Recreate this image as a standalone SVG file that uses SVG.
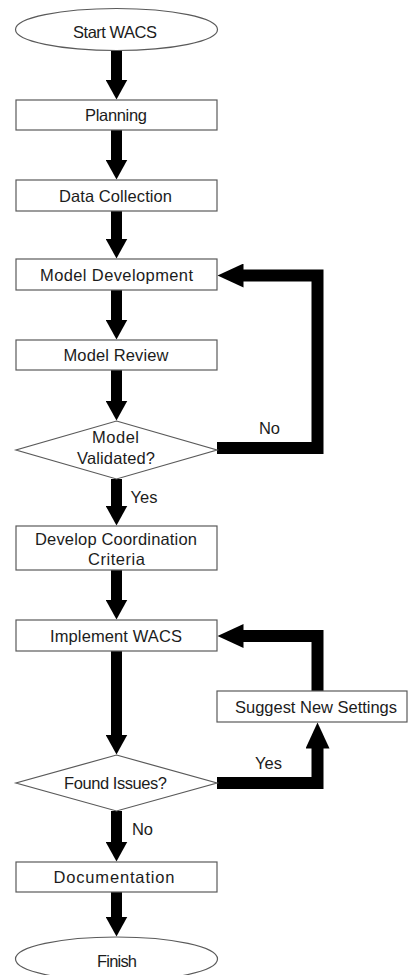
<svg xmlns="http://www.w3.org/2000/svg" width="409" height="975" viewBox="0 0 409 975">
  <defs>
    <style>
      .shape { fill: #ffffff; stroke: #5a5a5a; stroke-width: 1.2; }
      .lbl { font-family: "Liberation Sans", Arial, sans-serif; font-size: 16.5px; fill: #1c1c1c; text-anchor: middle; }
      .flow { fill: none; stroke: #000000; stroke-width: 11; stroke-linejoin: miter; }
      .loop { fill: none; stroke: #000000; stroke-width: 12; stroke-linejoin: miter; }
    </style>
    <!-- arrowhead for the main vertical flow -->
    <marker id="headDown" markerUnits="userSpaceOnUse" markerWidth="22" markerHeight="22" refX="0.5" refY="11" orient="auto">
      <path d="M0,0 L20,11 L0,22 Z" fill="#000"/>
    </marker>
    <!-- larger arrowhead for the feedback loops -->
    <marker id="headLoop" markerUnits="userSpaceOnUse" markerWidth="27" markerHeight="24" refX="0.5" refY="12" orient="auto">
      <path d="M0,0 L26,12 L0,24 Z" fill="#000"/>
    </marker>
  </defs>

  <rect width="409" height="975" fill="#ffffff"/>

  <!-- connectors -->
  <g id="connectors">
    <path class="flow" d="M116.5,50 V80" marker-end="url(#headDown)"/>
    <path class="flow" d="M116.5,130 V160" marker-end="url(#headDown)"/>
    <path class="flow" d="M116.5,211 V239" marker-end="url(#headDown)"/>
    <path class="flow" d="M116.5,290 V320" marker-end="url(#headDown)"/>
    <path class="flow" d="M116.5,370 V401" marker-end="url(#headDown)"/>
    <path class="flow" d="M116.5,479 V506" marker-end="url(#headDown)"/>
    <path class="flow" d="M116.5,570 V600" marker-end="url(#headDown)"/>
    <path class="flow" d="M116.5,651 V735" marker-end="url(#headDown)"/>
    <path class="flow" d="M116.5,811 V842" marker-end="url(#headDown)"/>
    <path class="flow" d="M116.5,892 V917" marker-end="url(#headDown)"/>
    <!-- No: back to model development -->
    <path class="loop" d="M217,448 H317.5 V275.5 H243" marker-end="url(#headLoop)"/>
    <!-- Yes: issues found, suggest new settings -->
    <path class="loop" d="M217,783 H317.5 V748" marker-end="url(#headLoop)"/>
    <!-- new settings back to implementation -->
    <path class="loop" d="M317.5,691 V636 H243" marker-end="url(#headLoop)"/>
    <text class="lbl" x="269.5" y="434">No</text>
    <text class="lbl" x="144" y="503">Yes</text>
    <text class="lbl" x="268.5" y="769">Yes</text>
    <text class="lbl" x="142.5" y="835">No</text>
  </g>

  <g id="start">
    <ellipse class="shape" cx="116.5" cy="29.5" rx="101" ry="21"/>
    <text class="lbl" x="115" y="37.5" textLength="84">Start WACS</text>
  </g>
  <g id="planning">
    <rect class="shape" x="16" y="100" width="201" height="30"/>
    <text class="lbl" x="116" y="120.5" textLength="62">Planning</text>
  </g>
  <g id="data-collection">
    <rect class="shape" x="16" y="180" width="201" height="31"/>
    <text class="lbl" x="115.5" y="201.5" textLength="113">Data Collection</text>
  </g>
  <g id="model-development">
    <rect class="shape" x="16" y="259" width="201" height="31"/>
    <text class="lbl" x="116.5" y="281" textLength="153">Model Development</text>
  </g>
  <g id="model-review">
    <rect class="shape" x="16" y="340" width="201" height="30"/>
    <text class="lbl" x="116" y="361" textLength="105">Model Review</text>
  </g>
  <g id="model-validated">
    <polygon class="shape" points="116.5,421 217,450 116.5,479 16,450"/>
    <text class="lbl" x="115.5" y="443" textLength="47">Model</text>
    <text class="lbl" x="116" y="463.5" textLength="78">Validated?</text>
  </g>
  <g id="coordination-criteria">
    <rect class="shape" x="16" y="526" width="201" height="44"/>
    <text class="lbl" x="116" y="545" textLength="162">Develop Coordination</text>
    <text class="lbl" x="116.5" y="565" textLength="57">Criteria</text>
  </g>
  <g id="implement">
    <rect class="shape" x="16" y="620" width="201" height="31"/>
    <text class="lbl" x="116" y="642" textLength="132">Implement WACS</text>
  </g>
  <g id="suggest-settings">
    <rect class="shape" x="217" y="691" width="190" height="31"/>
    <text class="lbl" x="316" y="713" textLength="162">Suggest New Settings</text>
  </g>
  <g id="found-issues">
    <polygon class="shape" points="116.5,755 217,783 116.5,811 16,783"/>
    <text class="lbl" x="115.5" y="789" textLength="103">Found Issues?</text>
  </g>
  <g id="documentation">
    <rect class="shape" x="16" y="862" width="201" height="30"/>
    <text class="lbl" x="114" y="883" textLength="121">Documentation</text>
  </g>
  <g id="finish">
    <ellipse class="shape" cx="116.5" cy="959" rx="101" ry="22"/>
    <text class="lbl" x="117" y="967" textLength="40">Finish</text>
  </g>
</svg>
